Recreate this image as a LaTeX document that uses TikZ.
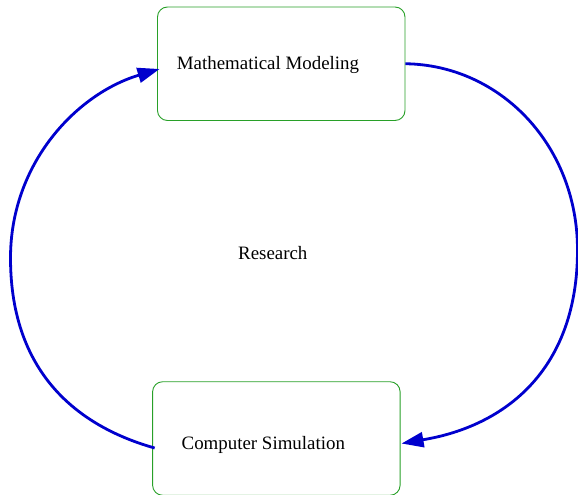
\documentclass[tikz,border=0pt]{standalone}
\usepackage{fontspec}
\setmainfont{Liberation Serif}
\usetikzlibrary{arrows.meta}
\definecolor{boxgreen}{RGB}{40,160,40}
\definecolor{flowblue}{RGB}{0,0,205}
\begin{document}
\begin{tikzpicture}[x=1pt,y=-1pt,
  stage/.style={draw=boxgreen, line width=0.9pt, rounded corners=10pt,
    rectangle, inner sep=0pt, minimum width=247.5pt, minimum height=113.5pt},
  caption/.style={font=\fontsize{18.9}{22}\selectfont, inner sep=0pt, anchor=base},
  flow/.style={draw=flowblue, line width=2.8pt,
    -{Triangle[length=22pt,width=15pt]}}]
  \useasboundingbox (0,0) rectangle (578,495);
  \begin{scope}
    \clip (0,0) rectangle (578,495);
    % the two stages of the cycle
    \node[stage] (mm) at (281.25,63.75) {};
    \node[stage] (cs) at (276.35,438.5) {};
    \node[caption] (mmtext) at (268,70) {Mathematical Modeling};
    \node[caption] (cstext) at (263.3,449) {Computer Simulation};
    \node[caption] (research) at (272.8,259.3) {Research};
    % turning points of the two arcs
    \coordinate (r) at (577.5,250);
    \coordinate (l) at (10.5,258);
    % where each curve hands over to its arrow tip (one tip length back)
    \coordinate (csin) at ([xshift=22.7pt,yshift=-1.2pt]cs.east);
    \coordinate (mmin) at ([xshift=-18.6pt,yshift=-11.55pt]mm.west);
    \draw[flow] (mm.east) .. controls (500,65) and (577.5,145) .. (r)
      .. controls (577.5,370) and (505,426) .. (csin)
      -- ([xshift=1pt,yshift=-5pt]cs.east);
    \draw[flow] ([xshift=2.5pt,yshift=-9.5pt]cs.west) .. controls (83.7,428) and (10.5,378) .. (l)
      .. controls (10.5,163) and (76.8,94) .. (mmin)
      -- ([xshift=2.5pt,yshift=-5.25pt]mm.west);
  \end{scope}
\end{tikzpicture}
\end{document}
